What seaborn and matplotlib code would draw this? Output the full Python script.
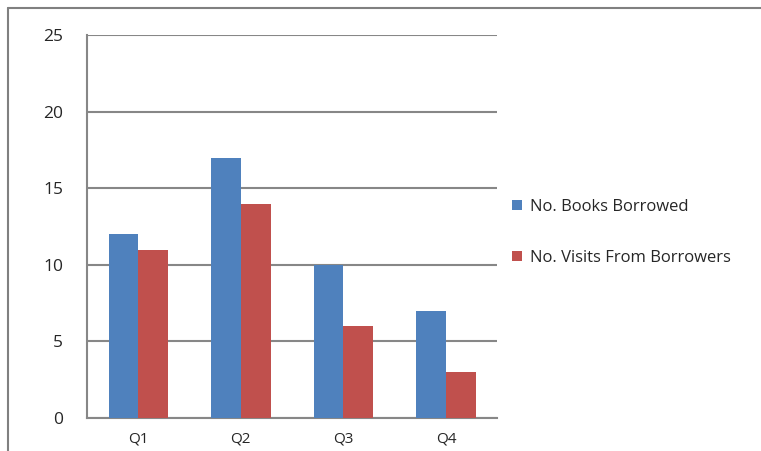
import pandas as pd
import matplotlib.pyplot as plt
import seaborn as sns

# data
quarters = ['Q1', 'Q2', 'Q3', 'Q4']
books_borrowed = [12, 17, 10, 7]
visits_from_borrowers = [11, 14, 6, 3]
series_names = ['No. Books Borrowed', 'No. Visits From Borrowers']

df = pd.DataFrame({
    'Quarter': quarters * 2,
    'Series': [series_names[0]] * 4 + [series_names[1]] * 4,
    'Value': books_borrowed + visits_from_borrowers,
})

sns.set_style('white')
plt.rcParams['font.family'] = ['Open Sans', 'DejaVu Sans']

fig = plt.figure(figsize=(7.61, 4.51), dpi=100)
ax = fig.add_axes([0.1143, 0.0732, 0.539, 0.849])

sns.barplot(data=df, x='Quarter', y='Value', hue='Series',
            palette=['#4F81BD', '#C0504D'], width=0.58, saturation=1,
            linewidth=0, ax=ax, zorder=3)

# outer frame of the picture
fig.add_artist(plt.Line2D([0.0105, 0.0105], [0, 0.982], color='#808080', lw=1.5))
fig.add_artist(plt.Line2D([0.0105, 1], [0.982, 0.982], color='#808080', lw=1.5))

ax.set_ylim(0, 25)
ax.set_yticks([0, 5, 10, 15, 20, 25])
ax.set_xlim(-0.5, 3.5)
ax.grid(axis='y', color='#878787', lw=1.5, zorder=0)
ax.set_xlabel('')
ax.set_ylabel('')

for side in ['top', 'right']:
    ax.spines[side].set_visible(False)
for side in ['left', 'bottom']:
    ax.spines[side].set_color('#878787')
    ax.spines[side].set_linewidth(1.5)

ax.tick_params(axis='y', length=6, width=1.5, color='#878787', labelsize=12.5, pad=11)
ax.tick_params(axis='x', which='major', length=0, labelsize=11, pad=10)
ax.set_xticks([-0.5, 0.5, 1.5, 2.5, 3.5], minor=True)
ax.tick_params(axis='x', which='minor', length=5, width=1.5, color='#878787')

ax.legend(loc='center left', bbox_to_anchor=(1.0, 0.485), frameon=False,
          fontsize=12, handlelength=0.6, handleheight=0.6, handletextpad=0.5,
          labelspacing=2.1)

fig.savefig('out.png', dpi=100)
